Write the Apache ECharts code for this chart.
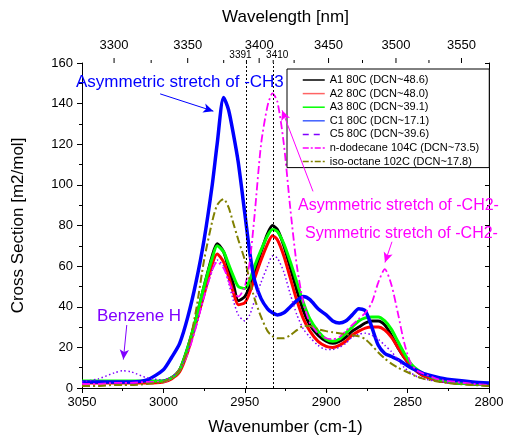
<!DOCTYPE html>
<html><head><meta charset="utf-8">
<script src="https://cdn.jsdelivr.net/npm/echarts@6/dist/echarts.min.js"></script>
<style>html,body{margin:0;padding:0;background:#fff}#c{width:507px;height:441px}</style>
</head><body><div id="c"></div>
<script>
const wavenumbers = [3050,3040,3030,3025,3020,3010,3000,2995,2990,2985,2980,2975,2970,2967,2963,2960,2957,2954,2950,2947,2944,2940,2936,2933,2930,2926,2922,2918,2914,2910,2905,2900,2896,2892,2888,2884,2880,2876,2872,2868,2864,2860,2856,2852,2848,2844,2840,2830,2820,2810,2800];
const a1 = [3,3,3,3,3, 3,3.5,5,9,20, 34,50,65,71,67, 59,51,43,45,50, 57,67,76,80,78, 70,59,48,38,31, 26,23,22,23,25, 28,30,32,33,33, 31,26,20,15,11, 8,6,3.5,2.5,2, 1.5];
const a2 = [2.5,2.5,2.5,2.5,2.5, 2.5,3,4.5,8,18, 32,46,61,66,62, 55,47,41,42,47, 54,63,71,75,73, 65,54,43,34,28, 23,20.5,20,21,23, 26,28,29.5,30,30, 28.5,25,20,15,11, 8,6,3.5,2.5,2, 1.5];
const a3 = [3.5,3.5,3.5,3.5,3.5, 3.5,3.5,5,9,20, 34,50,64,70,67, 61,55,50,49,53, 60,68,75,78,77, 71,62,52,42,34, 28,24,23,24,27, 30,33,34.5,35,35, 33,29,23,17,12, 9,7,4,2.5,2, 1.5];
const c1 = [3,3,3,3,3, 4,9,15,22,35, 52,73,100,120,143, 137,125,111,86,67, 53,44,39,37,36, 37,40,43,45,43.5, 39,36,33,32,33, 36,39,38,30,21, 17,15.5,14,12,10, 8.5,7,5,3.8,3, 2.5];
const c5 = [3,4.5,7.5,8.5,8, 5,4,5.5,9,18, 30,45,58,63,60, 52,43,36,33,36, 43,52,60,65,64, 57,46,36,29,25, 21,19,19,20,22, 25,26.5,27,26,24, 21,18,14,10,7.5, 5.5,4.5,3,2.5,2, 1.5];
const dodecane = [2,2,2.5,2.5,2.5, 3,3,5,9,17, 30,45,58,62,59, 53,47,45,50,62, 85,120,139,145,141, 120,88,60,42,32, 27,24.5,24,25,28, 31,34,37,42,52, 58.5,51,37,22,12, 8.5,7,4,3,2, 1.5];
const isooctane = [1,1,1.5,1.5,1.5, 2,3,5,9,19, 38,63,82,90,93, 89,81,73,63,53, 44,35,28,25.5,24.5, 24.5,26,28.5,30.5,30.5, 29,28,27.5,27,26.5, 26,25.5,24,21,17.5, 14.5,12,10,8.5,7, 5.5,4.5,3,2,1.5, 1];

const seriesNames = ['A1 80C (DCN~48.6)','A2 80C (DCN~48.0)','A3 80C (DCN~39.1)','C1 80C (DCN~17.1)','C5 80C (DCN~39.6)','n-dodecane 104C (DCN~73.5)','iso-octane 102C (DCN~17.8)'];
const topMajorNm = [3300,3350,3400,3450,3500,3550];
const topMinorNm = [3325,3375,3425,3475,3525];
const topMarkNm = [3391,3410];

const FONT = '"Liberation Sans", Arial, Helvetica, sans-serif';
const pairs = vals => wavenumbers.map((w,i)=>[w, vals[i]]);
const toWn = nm => 1e7/nm;

const topTicks = [].concat(
  topMajorNm.map(n=>[toWn(n), n, 0]),
  topMinorNm.map(n=>[toWn(n), n, 1]),
  topMarkNm.map((n,i)=>[toWn(n), n, 2+i])
);

function lineSeries(name, vals, color, width, type, extra){
  return Object.assign({
    type:'line', name, data:pairs(vals), symbol:'none', showSymbol:false, smooth:0.25,
    lineStyle:{color, width, type}, itemStyle:{color}
  }, extra||{});
}
const solidArrow = (color) => ({color, width:1, type:'solid'});

const chart = echarts.init(document.getElementById('c'));
chart.setOption({
  animation:false,
  backgroundColor:'#fff',
  textStyle:{fontFamily:FONT},
  grid:{left:82, right:18, top:63, bottom:49},
  legend:{
    left:287, top:69, orient:'vertical', itemWidth:22, itemHeight:12, itemGap:1.6,
    padding:[5,10,0,15], backgroundColor:'#fff', borderColor:'#000', borderWidth:1, borderRadius:0,
    itemStyle:{opacity:0, borderWidth:0},
    textStyle:{fontSize:11, lineHeight:12, fontFamily:FONT, color:'#000'},
    data:[
      {name:seriesNames[0], lineStyle:{width:1.5, type:'solid'}},
      {name:seriesNames[1], lineStyle:{width:1.5, type:'solid', color:'#ff6464'}},
      {name:seriesNames[2], lineStyle:{width:1.5, type:'solid'}},
      {name:seriesNames[3], lineStyle:{width:1.5, type:'solid', color:'#4060ff'}},
      {name:seriesNames[4], lineStyle:{width:1.5, type:[6,5]}},
      {name:seriesNames[5], lineStyle:{width:1.5, type:[6,2,2,2]}},
      {name:seriesNames[6], lineStyle:{width:1.5, type:[6,2,2,2]}}
    ]
  },
  xAxis:[{
    type:'value', min:2800, max:3050, interval:50, inverse:true, position:'bottom',
    axisLine:{lineStyle:{color:'#000', width:1}},
    axisTick:{show:true, inside:false, length:5, lineStyle:{color:'#000'}},
    minorTick:{show:true, splitNumber:2, length:3, lineStyle:{color:'#000'}},
    splitLine:{show:false},
    axisLabel:{fontSize:13, color:'#000', margin:8, fontFamily:FONT, formatter:v=>String(v)},
    name:'Wavenumber (cm-1)', nameLocation:'middle', nameGap:31,
    nameTextStyle:{fontSize:17, color:'#000', fontFamily:FONT}
  },{
    type:'value', min:2800, max:3050, inverse:true, position:'top',
    axisLine:{show:true, lineStyle:{color:'#000', width:1}},
    axisTick:{show:false}, axisLabel:{show:false}, splitLine:{show:false},
    name:'Wavelength [nm]', nameLocation:'middle', nameGap:37,
    nameTextStyle:{fontSize:17, color:'#000', fontFamily:FONT}
  }],
  yAxis:[{
    type:'value', min:0, max:160, interval:20, position:'left',
    axisLine:{show:true, lineStyle:{color:'#000', width:1}},
    axisTick:{show:true, inside:false, length:5, lineStyle:{color:'#000'}},
    minorTick:{show:true, splitNumber:2, length:3, lineStyle:{color:'#000'}},
    splitLine:{show:false},
    axisLabel:{fontSize:13, color:'#000', margin:9, fontFamily:FONT},
    name:'Cross Section [m2/mol]', nameLocation:'middle', nameGap:55,
    nameTextStyle:{fontSize:17, color:'#000', fontFamily:FONT}
  },{
    type:'value', min:0, max:160, interval:20, position:'right',
    axisLine:{show:true, lineStyle:{color:'#000', width:1}},
    axisTick:{show:true, inside:true, length:4, lineStyle:{color:'#000'}},
    minorTick:{show:true, splitNumber:2, length:2, lineStyle:{color:'#000'}},
    splitLine:{show:false}, axisLabel:{show:false}
  }],
  graphic:[
    {type:'text', z:20, style:{x:76, y:82, text:'Asymmetric stretch of -CH3', fontSize:17, fontFamily:FONT, fill:'#0000ff', verticalAlign:'middle', align:'left'}},
    {type:'text', z:20, style:{x:298, y:206, text:'Asymmetric stretch of -CH2-', fontSize:16, fontFamily:FONT, fill:'#ff00ff', verticalAlign:'middle', align:'left'}},
    {type:'text', z:20, style:{x:305, y:234, text:'Symmetric stretch of -CH2-', fontSize:16, fontFamily:FONT, fill:'#ff00ff', verticalAlign:'middle', align:'left'}},
    {type:'text', z:20, style:{x:97, y:316, text:'Benzene H', fontSize:17, fontFamily:FONT, fill:'#8000ff', verticalAlign:'middle', align:'left'}}
  ],
  series:[
    lineSeries(seriesNames[0], a1, '#000000', 3, 'solid', {
      markLine:{silent:true, symbol:'none', label:{show:false},
        lineStyle:{type:[2,2], color:'#000', width:1},
        data:[{xAxis:toWn(topMarkNm[0])},{xAxis:toWn(topMarkNm[1])}]}
    }),
    lineSeries(seriesNames[1], a2, '#ff0000', 3, 'solid'),
    lineSeries(seriesNames[2], a3, '#00ff00', 3, 'solid'),
    lineSeries(seriesNames[3], c1, '#0000ff', 3.5, 'solid', {
      markLine:{silent:true, symbol:['none','arrow'], symbolSize:[7,10], label:{show:false},
        lineStyle:solidArrow('#0000ff'),
        data:[[{coord:[3002,144.8]},{coord:[2969.3,136.3]}]]}
    }),
    lineSeries(seriesNames[4], c5, '#8000ff', 1.5, [1.5,2.5], {
      markLine:{silent:true, symbol:['none','arrow'], symbolSize:[7,10], label:{show:false},
        lineStyle:solidArrow('#8000ff'),
        data:[[{coord:[3022.5,31]},{coord:[3024.6,14]}]]}
    }),
    lineSeries(seriesNames[5], dodecane, '#ff00ff', 1.8, [8,3,2,3], {
      markLine:{silent:true, symbol:['none','arrow'], symbolSize:[7,10], label:{show:false},
        lineStyle:solidArrow('#ff00ff'),
        data:[[{coord:[2908.1,96.8]},{coord:[2927.1,136.7]}],[{coord:[2859.6,72]},{coord:[2863.9,61.8]}]]}
    }),
    lineSeries(seriesNames[6], isooctane, '#808000', 2, [8,3,2,3]),
    {
      type:'custom', name:'topAxis', silent:true, clip:false, z:10,
      data:topTicks, encode:{x:0, y:2},
      renderItem(params, api){
        const nm = api.value(1), kind = api.value(2);
        const p = api.coord([api.value(0), 160]);
        const len = kind===0 ? 5 : 3;
        const ch = [{type:'line', shape:{x1:p[0], y1:p[1], x2:p[0], y2:p[1]-len}, style:{stroke:'#000', lineWidth:1}}];
        if(kind===0){
          ch.push({type:'text', style:{text:String(nm), x:p[0], y:p[1]-18, align:'center', verticalAlign:'middle', fontSize:13, fontFamily:FONT, fill:'#000'}});
        } else if(kind>=2){
          const dx = kind===2 ? -6 : 4;
          ch.push({type:'text', style:{text:String(nm), x:p[0]+dx, y:p[1]-7.5, align:'center', verticalAlign:'middle', fontSize:10, fontFamily:FONT, fill:'#000'}});
        }
        return {type:'group', children:ch};
      }
    }
  ]
});
</script></body></html>
